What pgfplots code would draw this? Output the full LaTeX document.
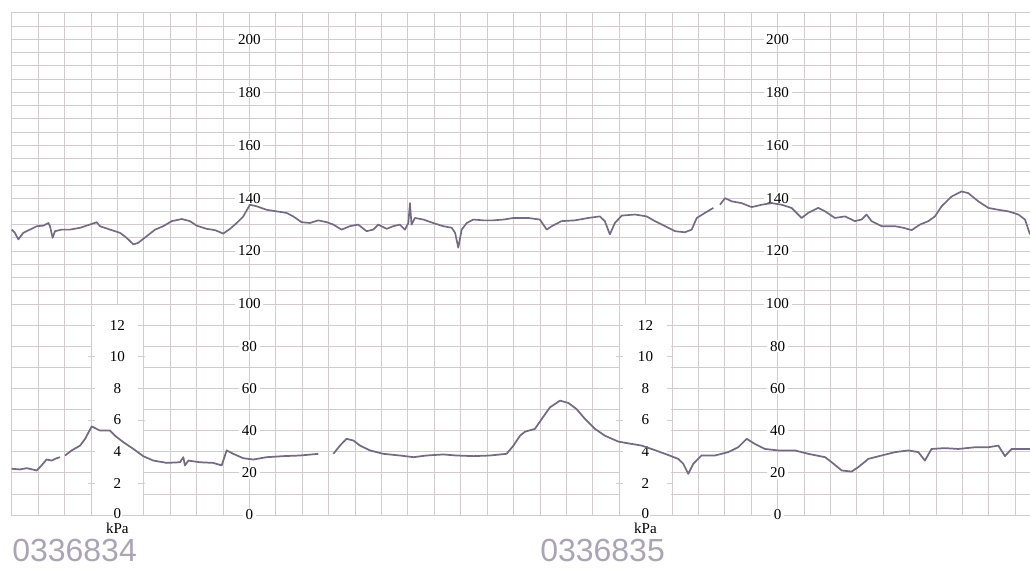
\documentclass[border=0pt]{standalone}
\usepackage{fontspec}
\setmainfont{Liberation Serif}
\newfontfamily\stampfont{Liberation Sans}
\usepackage{pgfplots}
\pgfplotsset{compat=1.18}

\definecolor{gridc}{RGB}{212,203,208}
\definecolor{trace}{RGB}{116,106,130}
\definecolor{stamp}{RGB}{170,165,180}

\newcommand{\lab}{\fontsize{11.3}{12}\selectfont}

\begin{document}
\begin{tikzpicture}
\path[use as bounding box] (0,0) rectangle (772.5pt,-425.25pt);

\pgfplotsset{ctg/.style={
  scale only axis, width=763.725pt,
  xmin=0, xmax=38.56,
  xticklabels={}, yticklabels={},
  major tick length=0pt,
  grid=major,
  grid style={gridc, line width=0.5pt},
  axis line style={gridc, line width=0.5pt},
  clip=false,
  unbounded coords=jump,
}}

% heart rate (bpm)
\begin{axis}[ctg, at={(8.775pt,-9.6pt)}, anchor=north west,
  height=218.4pt, ymin=100, ymax=210,
  xtick={0,...,38}, ytick={100,105,...,210}]
  \pgfplotsinvokeforeach{200,180,160,140,120}{
    \node[fill=white, inner xsep=2pt, inner ysep=0.5pt, font=\lab] at (axis cs:9,#1) {#1};
    \node[fill=white, inner xsep=2pt, inner ysep=0.5pt, font=\lab] at (axis cs:29,#1) {#1};
  }
  \addplot[trace, line width=1.25pt, line join=round] coordinates {
    (0,128.1)(0.12,126.9)(0.25,124.4)(0.44,126.9)(0.69,128.1)(0.95,129.4)
    (1.20,129.6)(1.39,130.6)(1.45,129.4)(1.55,125.0)(1.64,127.5)(1.89,128.1)
    (2.21,128.1)(2.59,128.8)(2.96,130.0)(3.22,130.9)(3.34,129.4)(3.72,128.1)
    (4.10,126.9)(4.35,125.0)(4.61,122.5)(4.79,123.1)(5.11,125.6)(5.43,128.1)
    (5.74,129.4)(6.06,131.3)(6.44,132.1)(6.75,131.3)(7.00,129.6)(7.38,128.4)
    (7.70,127.9)(8.01,126.6)(8.27,128.4)(8.52,130.6)(8.77,133.1)(9.02,137.5)
    (9.28,136.9)(9.65,135.6)(10.03,135.0)(10.41,134.4)(10.66,133.1)(10.98,130.9)
    (11.29,130.6)(11.61,131.6)(11.93,130.9)(12.18,130.0)(12.49,128.1)(12.81,129.4)
    (13.12,130.0)(13.44,127.5)(13.69,128.1)(13.88,130.0)(14.20,128.4)(14.45,129.4)
    (14.70,130.0)(14.89,128.1)(15.02,130.6)(15.08,138.1)(15.14,130.0)(15.27,132.5)
    (15.59,131.9)(15.96,130.6)(16.34,129.4)(16.66,128.8)(16.79,126.9)(16.91,121.3)
    (17.04,128.1)(17.23,130.6)(17.48,131.9)(17.86,131.6)(18.24,131.6)(18.62,131.9)
    (19.00,132.5)(19.56,132.5)(20.00,131.9)(20.26,128.1)(20.45,129.4)(20.82,131.3)
    (21.33,131.6)(21.83,132.5)(22.27,133.1)(22.46,131.3)(22.65,126.3)(22.84,130.6)
    (23.10,133.4)(23.60,133.8)(24.04,133.1)(24.36,131.3)(24.74,129.4)(25.12,127.5)
    (25.49,127.1)(25.75,128.1)(25.94,132.5)(26.25,134.4)(26.57,136.3)
    (26.70,nan)
    (26.82,137.5)(27.01,140.0)(27.26,138.8)(27.64,138.1)(28.02,136.6)(28.40,137.5)
    (28.78,138.1)(29.15,137.5)(29.53,136.3)(29.91,132.5)(30.16,134.4)(30.54,136.3)
    (30.80,135.0)(31.17,132.5)(31.55,133.1)(31.93,131.3)(32.18,131.9)(32.37,133.8)
    (32.56,131.3)(32.94,129.4)(33.45,129.4)(33.76,128.8)(34.08,127.9)(34.39,130.0)
    (34.71,131.3)(34.96,133.1)(35.21,136.9)(35.59,140.6)(35.97,142.5)(36.22,141.9)
    (36.60,138.8)(36.98,136.3)(37.36,135.6)(37.74,135.0)(38.12,133.8)(38.37,131.9)
    (38.56,126.3)
  };
\end{axis}

% uterine activity (mmHg / kPa)
\begin{axis}[ctg, at={(8.775pt,-228pt)}, anchor=north west,
  height=158.25pt, ymin=0, ymax=100,
  xtick={0,1,2,3,5,6,...,23,25,26,...,38}, ytick={0,10,...,100}]
  \fill[white] (axis cs:3.03,0.3) rectangle (axis cs:4.97,99.7);
  \fill[white] (axis cs:23.03,0.3) rectangle (axis cs:24.97,99.7);
  \pgfplotsinvokeforeach{15,30,45,60,75,90}{
    \draw[gridc, line width=0.5pt] (axis cs:2.9,#1) -- (axis cs:3.15,#1);
    \draw[gridc, line width=0.5pt] (axis cs:4.8,#1) -- (axis cs:5.05,#1);
    \draw[gridc, line width=0.5pt] (axis cs:22.9,#1) -- (axis cs:23.15,#1);
    \draw[gridc, line width=0.5pt] (axis cs:24.8,#1) -- (axis cs:25.05,#1);
  }
  \pgfplotsinvokeforeach{100,80,60,40,20,0}{
    \node[fill=white, inner xsep=2pt, inner ysep=0.5pt, font=\lab] at (axis cs:9,#1) {#1};
    \node[fill=white, inner xsep=2pt, inner ysep=0.5pt, font=\lab] at (axis cs:29,#1) {#1};
  }
  \node[fill=white, inner sep=0.5pt, font=\lab] at (axis cs:4,90) {12};
  \node[fill=white, inner sep=0.5pt, font=\lab] at (axis cs:4,75) {10};
  \node[fill=white, inner sep=0.5pt, font=\lab] at (axis cs:4,60) {8};
  \node[fill=white, inner sep=0.5pt, font=\lab] at (axis cs:4,45) {6};
  \node[fill=white, inner sep=0.5pt, font=\lab] at (axis cs:4,30) {4};
  \node[fill=white, inner sep=0.5pt, font=\lab] at (axis cs:4,15) {2};
  \node[fill=white, inner sep=0.5pt, font=\lab] at (axis cs:4,0.6) {0};
  \node[font=\lab, inner sep=0pt] at (axis cs:4,-6.4) {kPa};
  \node[fill=white, inner sep=0.5pt, font=\lab] at (axis cs:24,90) {12};
  \node[fill=white, inner sep=0.5pt, font=\lab] at (axis cs:24,75) {10};
  \node[fill=white, inner sep=0.5pt, font=\lab] at (axis cs:24,60) {8};
  \node[fill=white, inner sep=0.5pt, font=\lab] at (axis cs:24,45) {6};
  \node[fill=white, inner sep=0.5pt, font=\lab] at (axis cs:24,30) {4};
  \node[fill=white, inner sep=0.5pt, font=\lab] at (axis cs:24,15) {2};
  \node[fill=white, inner sep=0.5pt, font=\lab] at (axis cs:24,0.6) {0};
  \node[font=\lab, inner sep=0pt] at (axis cs:24,-6.4) {kPa};
  \addplot[trace, line width=1.3pt, line join=round] coordinates {
    (0.00,21.9)(0.31,21.6)(0.57,22.2)(0.95,21.1)(1.13,23.5)(1.32,26.3)
    (1.51,25.8)(1.70,26.9)(1.83,27.4)
    (1.92,nan)
    (2.02,28.2)(2.27,30.6)(2.59,32.9)(2.78,36.1)(3.03,42.0)(3.34,40.0)
    (3.72,40.0)(3.91,37.6)(4.23,34.5)(4.61,31.3)(4.98,27.9)(5.36,25.8)
    (5.87,24.7)(6.37,25.0)(6.50,27.4)(6.56,23.5)(6.69,25.8)(7.13,25.0)
    (7.63,24.7)(7.95,23.5)(8.14,30.6)(8.39,29.0)(8.77,26.9)(9.15,26.3)
    (9.65,27.4)(10.29,27.9)(10.92,28.2)(11.61,29.0)
    (11.90,nan)
    (12.18,29.0)(12.43,32.9)(12.68,36.1)(12.94,35.3)(13.19,32.9)(13.57,30.6)
    (14.07,29.0)(14.70,28.2)(15.21,27.4)(15.71,28.2)(16.34,28.7)(16.85,28.2)
    (17.48,27.9)(18.11,28.2)(18.74,29.0)(19.00,32.9)(19.25,37.6)(19.44,39.5)
    (19.81,40.8)(20.07,45.5)(20.38,51.0)(20.76,54.2)(21.08,53.1)(21.39,50.2)
    (21.71,45.5)(22.09,40.8)(22.46,37.6)(22.97,34.8)(23.47,33.7)(23.85,32.9)
    (24.23,31.3)(24.74,29.0)(25.24,26.6)(25.43,24.3)(25.62,19.5)(25.81,24.3)
    (26.12,28.2)(26.63,28.2)(27.13,29.8)(27.51,32.1)(27.83,36.1)(28.14,33.7)
    (28.52,31.3)(29.03,30.6)(29.66,30.6)(30.16,29.0)(30.80,27.4)(31.05,25.0)
    (31.43,21.1)(31.80,20.6)(32.06,22.7)(32.44,26.6)(32.94,28.2)(33.45,29.8)
    (33.95,30.6)(34.33,29.8)(34.58,25.8)(34.83,31.3)(35.34,31.7)(35.84,31.3)
    (36.47,32.1)(36.98,32.1)(37.36,32.9)(37.61,27.9)(37.86,31.3)(38.24,31.3)
    (38.56,31.3)
  };
\end{axis}

\node[anchor=west, inner sep=0pt, text=stamp, font=\stampfont\fontsize{24}{25}\selectfont] at (9pt,-412.5pt) {0336834};
\node[anchor=west, inner sep=0pt, text=stamp, font=\stampfont\fontsize{24}{25}\selectfont] at (405pt,-412.5pt) {0336835};
\end{tikzpicture}
\end{document}
